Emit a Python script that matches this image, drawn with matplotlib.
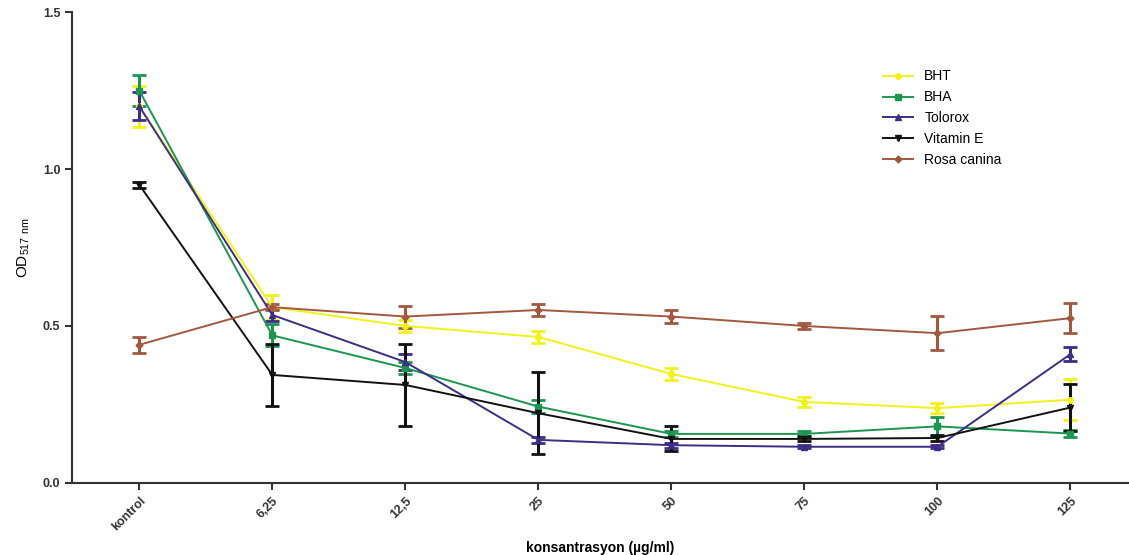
import matplotlib
matplotlib.use('Agg')
from matplotlib import pyplot as plt
from matplotlib.lines import Line2D
import numpy as np

categories = ['kontrol', '6,25', '12,5', '25', '50', '75', '100', '125']

bht = [1.20, 0.56, 0.50, 0.465, 0.347, 0.258, 0.238, 0.265]
bht_err = [0.065, 0.04, 0.02, 0.02, 0.02, 0.015, 0.015, 0.065]
bha = [1.25, 0.47, 0.366, 0.243, 0.156, 0.156, 0.18, 0.157]
bha_err = [0.05, 0.035, 0.02, 0.02, 0.01, 0.01, 0.03, 0.01]
tolorox = [1.20, 0.535, 0.385, 0.137, 0.12, 0.115, 0.115, 0.41]
tolorox_err = [0.045, 0.02, 0.025, 0.01, 0.008, 0.005, 0.005, 0.022]
vitamin_e = [0.95, 0.344, 0.312, 0.222, 0.14, 0.14, 0.143, 0.24]
vitamin_e_err = [0.01, 0.10, 0.13, 0.13, 0.04, 0.008, 0.01, 0.075]
rosa = [0.44, 0.56, 0.53, 0.551, 0.53, 0.50, 0.477, 0.525]
rosa_err = [0.025, 0.01, 0.035, 0.02, 0.02, 0.01, 0.055, 0.047]

plt.rcParams['font.family'] = ['Liberation Sans', 'DejaVu Sans']
plt.rcParams['mathtext.fontset'] = 'custom'
plt.rcParams['mathtext.rm'] = 'Liberation Sans'
plt.rcParams['mathtext.default'] = 'regular'

def main():
    fig = plt.figure(figsize=(11.29, 5.55), dpi=100)
    ax = fig.add_axes([0.064, 0.13, 0.936, 0.848])
    x = np.arange(len(categories))

    series = [
        (bht, bht_err, 'BHT', '#f2f21a', 'o', 4),
        (bha, bha_err, 'BHA', '#1b9650', 's', 4),
        (tolorox, tolorox_err, 'Tolorox', '#3f2c85', '^', 4),
        (vitamin_e, vitamin_e_err, 'Vitamin E', '#111111', 'v', 4),
        (rosa, rosa_err, 'Rosa canina', '#a2583f', 'D', 3.5),
    ]
    handles = []
    for y, err, label, color, marker, ms in series:
        ax.errorbar(x, y, yerr=err, color=color, marker=marker, markersize=ms,
                    lw=1.4, elinewidth=2.2, capsize=5, capthick=2)
        handles.append(Line2D([], [], color=color, marker=marker, markersize=ms,
                              lw=1.4, label=label))

    ax.set_xlim(-0.504, 7.44)
    ax.set_ylim(0, 1.5)
    ax.set_yticks([0.0, 0.5, 1.0, 1.5])
    ax.set_yticklabels(['0.0', '0.5', '1.0', '1.5'], fontsize=9, fontweight='bold', color='#333333')
    ax.set_xticks(x)
    ax.set_xticklabels(categories, rotation=45, ha='right', rotation_mode='anchor',
                       fontsize=9, fontweight='bold', color='#333333')
    ax.spines['top'].set_visible(False)
    ax.spines['right'].set_visible(False)
    ax.spines['left'].set_linewidth(1.5)
    ax.spines['bottom'].set_linewidth(1.5)
    ax.spines['left'].set_color('#333333')
    ax.spines['bottom'].set_color('#333333')
    ax.tick_params(direction='out', length=5, width=1.5, color='#333333')

    ax.set_xlabel('konsantrasyon (\u00b5g/ml)', fontsize=10, fontweight='bold', labelpad=6)
    ax.set_ylabel('OD$_{517\\ nm}$', fontsize=11, labelpad=8)

    ax.legend(handles=handles, loc='upper left', bbox_to_anchor=(0.755, 0.905), frameon=False,
              fontsize=10, handlelength=2.2, labelspacing=0.5)

    fig.savefig('out.png', dpi=100)

if __name__ == '__main__':
    main()
